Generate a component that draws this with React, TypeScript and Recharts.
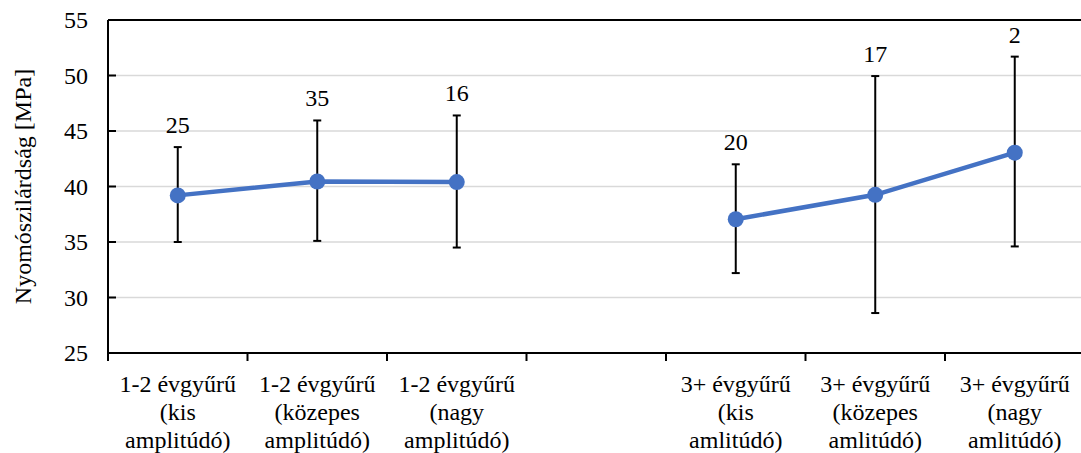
import React from 'react';
import {
  LineChart,
  Line,
  XAxis,
  YAxis,
  CartesianGrid,
  ErrorBar,
  LabelList,
  ReferenceLine,
} from 'recharts';

const categories = [
  '1-2 évgyűrű\n(kis\namplitúdó)',
  '1-2 évgyűrű\n(közepes\namplitúdó)',
  '1-2 évgyűrű\n(nagy\namplitúdó)',
  '',
  '3+ évgyűrű\n(kis\namlitúdó)',
  '3+ évgyűrű\n(közepes\namlitúdó)',
  '3+ évgyűrű\n(nagy\namlitúdó)',
];
const means = [39.2, 40.45, 40.4, null, 37.05, 39.25, 43.05];
const lows = [35.0, 35.1, 34.5, null, 32.2, 28.6, 34.6];
const highs = [43.55, 45.95, 46.4, null, 42.0, 49.95, 51.7];
const counts = [25, 35, 16, null, 20, 17, 2];
const yTicks = [25, 30, 35, 40, 45, 50, 55];

const data = categories.map((name, i) => {
  const m = means[i];
  const lo = lows[i];
  const hi = highs[i];
  return {
    name,
    mean: m,
    high: hi,
    n: counts[i],
    err: m == null || lo == null || hi == null ? [0, 0] : [m - lo, hi - m],
  };
});

const FONT = 'Liberation Serif';
const HALF_BAND = 69.75;

function CategoryTick(props: any) {
  const { x, y, payload, index, visibleTicksCount } = props;
  const lines = String(payload.value).split('\n').filter((s) => s.length);
  return (
    <g>
      <line x1={x - HALF_BAND} x2={x - HALF_BAND} y1={y - 8} y2={y} stroke="#000" strokeWidth={2} />
      {index === visibleTicksCount - 1 && (
        <line x1={x + HALF_BAND} x2={x + HALF_BAND} y1={y - 8} y2={y} stroke="#000" strokeWidth={2} />
      )}
      <text x={x} y={y} textAnchor="middle" fontFamily={FONT} fontSize={24} fill="#000">
        {lines.map((l, k) => (
          <tspan key={k} x={x} dy={k === 0 ? 31 : 28}>
            {l}
          </tspan>
        ))}
      </text>
    </g>
  );
}

function ValueTick(props: any) {
  const { x, y, payload } = props;
  return (
    <g>
      <line x1={x + 20} x2={x + 28} y1={y} y2={y} stroke="#000" strokeWidth={2} />
      <text x={x} y={y} dy={8} textAnchor="end" fontFamily={FONT} fontSize={24} fill="#000">
        {payload.value}
      </text>
    </g>
  );
}

export default function App() {
  return (
    <div
      style={{
        position: 'absolute',
        left: 0,
        top: 0,
        width: 1081,
        height: 453,
        overflow: 'hidden',
        background: '#fff',
      }}
    >
      <LineChart
        width={1090}
        height={453}
        data={data}
        margin={{ top: 20, right: 5.5, left: 0, bottom: 0 }}
      >
        <CartesianGrid vertical={false} stroke="#d9d9d9" strokeWidth={1.5} />
        <XAxis
          dataKey="name"
          interval={0}
          height={100}
          padding={{ left: HALF_BAND, right: HALF_BAND }}
          tickLine={false}
          tickSize={8}
          tickMargin={0}
          axisLine={{ stroke: '#000', strokeWidth: 2 }}
          tick={<CategoryTick />}
        />
        <YAxis
          width={108}
          domain={[25, 55]}
          ticks={yTicks}
          interval={0}
          tickLine={false}
          tickSize={0}
          tickMargin={20}
          axisLine={{ stroke: '#000', strokeWidth: 2 }}
          tick={<ValueTick />}
          label={{
            value: 'Nyomószilárdság [MPa]',
            angle: -90,
            position: 'center',
            dx: -32,
            fontFamily: FONT,
            fontSize: 24,
            fill: '#000',
          }}
        />
        <ReferenceLine y={55} stroke="#000" strokeWidth={2} />
        <Line
          dataKey="high"
          stroke="none"
          dot={false}
          activeDot={false}
          legendType="none"
          isAnimationActive={false}
        >
          <LabelList
            dataKey="n"
            position="top"
            offset={14}
            fontFamily={FONT}
            fontSize={24}
            fill="#000"
          />
        </Line>
        <Line
          dataKey="mean"
          stroke="#4472C4"
          strokeWidth={4.5}
          dot={{ r: 8, fill: '#4472C4', stroke: 'none' }}
          activeDot={false}
          isAnimationActive={false}
        >
          <ErrorBar dataKey="err" width={4} stroke="#000" strokeWidth={2} direction="y" />
        </Line>
      </LineChart>
    </div>
  );
}
